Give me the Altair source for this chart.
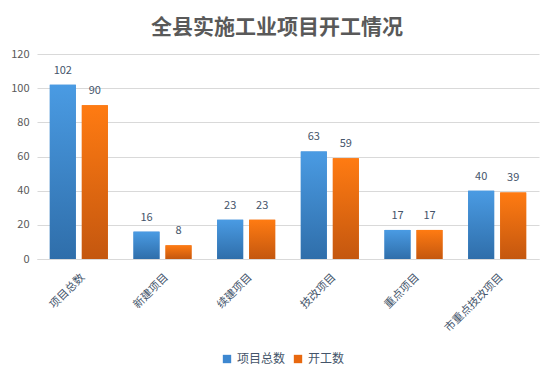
import altair as alt
import pandas as pd

categories = ["项目总数", "新建项目", "续建项目", "技改项目", "重点项目", "市重点技改项目"]
series = ["项目总数", "开工数"]
total_values = [102, 16, 23, 63, 17, 40]
started_values = [90, 8, 23, 59, 17, 39]

rows = []
for c, v in zip(categories, total_values):
    rows.append({"cat": c, "series": series[0], "value": v})
for c, v in zip(categories, started_values):
    rows.append({"cat": c, "series": series[1], "value": v})
df = pd.DataFrame(rows)

FONT = "Noto Sans CJK SC"

x_enc = alt.X("cat:N", sort=categories, title=None,
              scale=alt.Scale(paddingInner=0, paddingOuter=0),
              axis=alt.Axis(labelAngle=-45, labelColor="#44546A", labelFontSize=11,
                            labelFont=FONT, domainColor="#D9D9D9", ticks=False,
                            labelPadding=12, grid=False))
xo_enc = alt.XOffset("series:N", sort=series,
                     scale=alt.Scale(paddingInner=0.1875, paddingOuter=0.4))
y_enc = alt.Y("value:Q", title=None,
              scale=alt.Scale(domain=[0, 120]),
              axis=alt.Axis(values=[0, 20, 40, 60, 80, 100, 120], domain=False, ticks=False,
                            labelColor="#595959", labelFontSize=11, labelPadding=8,
                            gridColor="#D9D9D9", labelFont=FONT))

base = alt.Chart(df).encode(x=x_enc, xOffset=xo_enc, y=y_enc)

legend_bars = base.mark_bar().encode(
    color=alt.Color("series:N", sort=series,
                    scale=alt.Scale(domain=series, range=["#3D87D0", "#E8680F"]),
                    legend=alt.Legend(title=None, orient="none", legendX=184, legendY=299,
                                      direction="horizontal", symbolType="square",
                                      symbolSize=70, symbolStrokeWidth=0,
                                      labelFontSize=12, labelColor="#44546A",
                                      labelFont=FONT, columnPadding=6, symbolOffset=0))
)

blue_grad = alt.Gradient(gradient="linear", x1=0, x2=0, y1=0, y2=1,
                         stops=[alt.GradientStop(color="#4A9BE3", offset=0),
                                alt.GradientStop(color="#2F6EAA", offset=1)])
orange_grad = alt.Gradient(gradient="linear", x1=0, x2=0, y1=0, y2=1,
                           stops=[alt.GradientStop(color="#FF7B12", offset=0),
                                  alt.GradientStop(color="#C4570F", offset=1)])

blue_bars = base.mark_bar(color=blue_grad).transform_filter(alt.datum.series == series[0])
orange_bars = base.mark_bar(color=orange_grad).transform_filter(alt.datum.series == series[1])

labels = base.mark_text(dy=-14, fontSize=11, color="#44546A", font=FONT).encode(
    text="value:Q")

chart = alt.layer(legend_bars, blue_bars, orange_bars, labels).properties(
    width=502, height=205,
    title=alt.TitleParams("全县实施工业项目开工情况", fontSize=21, font=FONT,
                          fontWeight="bold", color="#595959", anchor="middle",
                          offset=10, dx=-11),
    padding={"left": 29, "top": 46, "right": 7, "bottom": 112},
    autosize=alt.AutoSizeParams(type="none"),
).configure(background="white", view=alt.ViewConfig(stroke=None))

chart.save("out.html", embed_options={"renderer": "svg", "actions": False})
